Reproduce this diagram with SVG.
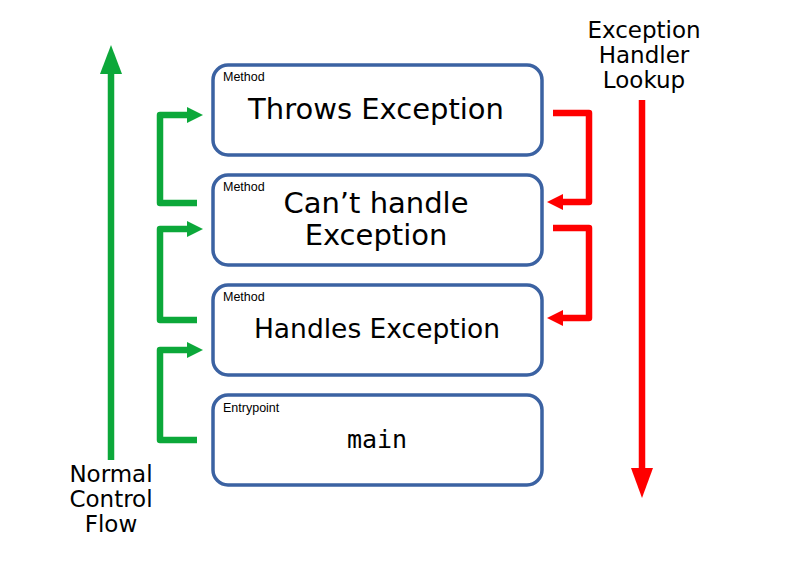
<svg xmlns="http://www.w3.org/2000/svg" width="794" height="563" viewBox="0 0 794 563">
<style>
.box{fill:#fff;stroke:#3b62a2;stroke-width:3.5}
.tag{font-family:"Liberation Sans",Arial,sans-serif;font-size:12.5px;fill:#000}
.big{font-family:"DejaVu Sans",Verdana,sans-serif;font-size:29px;fill:#000;text-anchor:middle}
.mono{font-family:"DejaVu Sans Mono",monospace;font-size:25px;fill:#000;text-anchor:middle}
.lbl{font-family:"DejaVu Sans",Verdana,sans-serif;font-size:23px;fill:#000;text-anchor:middle}
.g{fill:none;stroke:#0ca83a;stroke-width:6.5;stroke-linejoin:round}
.r{fill:none;stroke:#ff0000;stroke-width:6.5;stroke-linejoin:round}
.gh{fill:#0ca83a}
.rh{fill:#ff0000}
</style>
<rect width="794" height="563" fill="#fff"/>
<g id="connectors">
  <line class="g" x1="111" y1="460" x2="111" y2="70"/>
  <polygon class="gh" points="100,74 111,45 122,74"/>
  <path class="g" d="M197,203 H160 V115 H190"/>
  <polygon class="gh" points="187,107 203,115 187,123"/>
  <path class="g" d="M197,320 H160 V229 H190"/>
  <polygon class="gh" points="187,221 203,229 187,237"/>
  <path class="g" d="M197,440 H160 V350 H190"/>
  <polygon class="gh" points="187,342 203,350 187,358"/>
  <path class="r" d="M553,113 H589 V202 H560"/>
  <polygon class="rh" points="563,194 547,202 563,210"/>
  <path class="r" d="M553,228 H589 V318 H560"/>
  <polygon class="rh" points="563,310 547,318 563,326"/>
  <line class="r" x1="642" y1="100" x2="642" y2="472"/>
  <polygon class="rh" points="631,468 642,498 653,468"/>
</g>
<g id="throws">
  <rect class="box" x="213" y="65" width="329" height="90" rx="15"/>
  <text class="tag" x="223" y="81">Method</text>
  <text class="big" x="376" y="119">Throws Exception</text>
</g>
<g id="cant">
  <rect class="box" x="213" y="175" width="329" height="90" rx="15"/>
  <text class="tag" x="223" y="191">Method</text>
  <text class="big" x="376" y="213">Can’t handle</text>
  <text class="big" x="376" y="245">Exception</text>
</g>
<g id="handles">
  <rect class="box" x="213" y="285" width="329" height="90" rx="15"/>
  <text class="tag" x="223" y="301">Method</text>
  <text class="big" x="377" y="338" style="font-size:26.5px">Handles Exception</text>
</g>
<g id="main">
  <rect class="box" x="213" y="395" width="329" height="90" rx="15"/>
  <text class="tag" x="223" y="412">Entrypoint</text>
  <text class="mono" x="377" y="448">main</text>
</g>
<g id="normal-label">
  <text class="lbl" x="111" y="482">Normal</text>
  <text class="lbl" x="111" y="507">Control</text>
  <text class="lbl" x="111" y="532">Flow</text>
</g>
<g id="lookup-label">
  <text class="lbl" x="644" y="38">Exception</text>
  <text class="lbl" x="644" y="63">Handler</text>
  <text class="lbl" x="644" y="88">Lookup</text>
</g>
</svg>
